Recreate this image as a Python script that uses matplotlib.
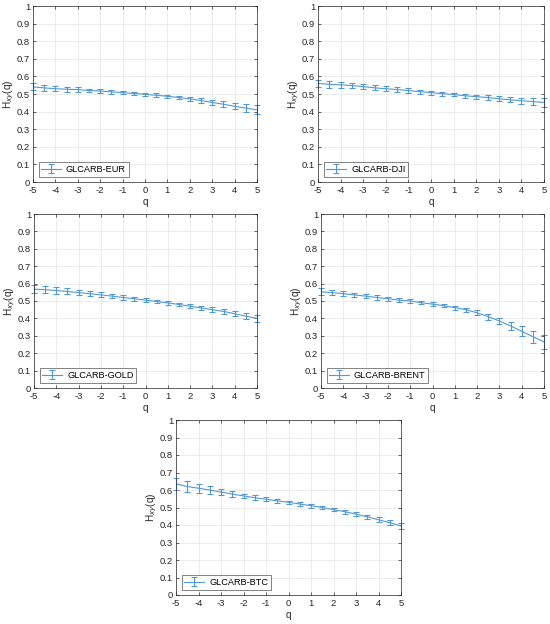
import numpy as np
import matplotlib.pyplot as plt

plt.rcParams['font.family'] = ['Liberation Sans', 'DejaVu Sans']
plt.rcParams['axes.unicode_minus'] = False

q = np.arange(-5, 5.01, 0.5)

# GLCARB-EUR
h_eur = [0.540, 0.535, 0.530, 0.527, 0.525, 0.520, 0.517, 0.512, 0.508, 0.503, 0.498,
         0.493, 0.487, 0.480, 0.472, 0.463, 0.452, 0.442, 0.430, 0.420, 0.410]
e_eur = [0.020, 0.016, 0.014, 0.013, 0.012, 0.011, 0.011, 0.010, 0.010, 0.010, 0.010,
         0.010, 0.010, 0.011, 0.012, 0.013, 0.014, 0.016, 0.018, 0.021, 0.025]
# GLCARB-DJI
h_dji = [0.560, 0.555, 0.552, 0.548, 0.542, 0.535, 0.530, 0.525, 0.520, 0.513, 0.508,
         0.502, 0.497, 0.490, 0.485, 0.480, 0.473, 0.467, 0.462, 0.457, 0.452]
e_dji = [0.022, 0.019, 0.017, 0.016, 0.015, 0.014, 0.013, 0.012, 0.012, 0.011, 0.011,
         0.011, 0.011, 0.012, 0.012, 0.013, 0.014, 0.015, 0.017, 0.020, 0.025]
# GLCARB-GOLD
h_gold = [0.568, 0.565, 0.560, 0.555, 0.548, 0.542, 0.535, 0.528, 0.520, 0.513, 0.505,
          0.497, 0.489, 0.480, 0.470, 0.460, 0.450, 0.440, 0.427, 0.413, 0.400]
e_gold = [0.022, 0.019, 0.018, 0.017, 0.016, 0.015, 0.014, 0.013, 0.012, 0.012, 0.011,
          0.011, 0.011, 0.011, 0.012, 0.012, 0.013, 0.014, 0.016, 0.018, 0.022]
# GLCARB-BRENT
h_brent = [0.553, 0.548, 0.542, 0.535, 0.528, 0.520, 0.513, 0.505, 0.500, 0.490, 0.482,
           0.473, 0.462, 0.450, 0.432, 0.410, 0.385, 0.357, 0.326, 0.295, 0.265]
e_brent = [0.020, 0.016, 0.014, 0.013, 0.012, 0.012, 0.011, 0.011, 0.010, 0.010, 0.010,
           0.010, 0.011, 0.012, 0.015, 0.017, 0.020, 0.025, 0.030, 0.035, 0.040]
# GLCARB-BTC
h_btc = [0.635, 0.620, 0.610, 0.600, 0.588, 0.577, 0.566, 0.556, 0.547, 0.538, 0.530,
         0.520, 0.510, 0.500, 0.488, 0.476, 0.462, 0.447, 0.430, 0.413, 0.395]
e_btc = [0.035, 0.030, 0.025, 0.021, 0.018, 0.015, 0.014, 0.013, 0.012, 0.011, 0.010,
         0.010, 0.010, 0.010, 0.010, 0.011, 0.011, 0.012, 0.013, 0.014, 0.016]

series = [
    ("GLCARB-EUR", h_eur, e_eur),
    ("GLCARB-DJI", h_dji, e_dji),
    ("GLCARB-GOLD", h_gold, e_gold),
    ("GLCARB-BRENT", h_brent, e_brent),
    ("GLCARB-BTC", h_btc, e_btc),
]

W, H = 550, 624
# axes boxes in pixels: left, top, right, bottom
boxes = [
    (33, 6, 257, 182),
    (318, 6, 544, 182),
    (34, 214, 257, 388),
    (321, 214, 544, 388),
    (176, 420, 401, 595),
]

fig = plt.figure(figsize=(W / 100, H / 100), dpi=100)
col = '#5299d2'

for (name, h, e), (l, t, r, b) in zip(series, boxes):
    ax = fig.add_axes([l / W, 1 - b / H, (r - l) / W, (b - t) / H])
    _, caps, bars = ax.errorbar(q, h, yerr=e, color=col, lw=0.8, elinewidth=0.8,
                                capsize=2, capthick=0.8, label=name)
    for c in caps:
        c.set_clip_on(False)
    for bc in bars:
        bc.set_clip_on(False)
    ax.set_xlim(-5, 5)
    ax.set_ylim(0, 1)
    ax.set_xticks(np.arange(-5, 6, 1))
    ax.set_yticks(np.arange(0, 1.01, 0.1))
    ax.set_yticklabels(['0'] + ['%.1f' % v for v in np.arange(0.1, 0.95, 0.1)] + ['1'])
    ax.grid(True, color='#e4e4e4', lw=0.5)
    ax.set_axisbelow(True)
    ax.tick_params(direction='in', length=2, width=0.5, labelsize=6.8,
                   top=True, right=True, colors='#262626')
    ax.tick_params(axis='x', pad=3)
    ax.tick_params(axis='y', pad=2)
    for s in ax.spines.values():
        s.set_linewidth(0.5)
        s.set_color('#262626')
    ax.set_xlabel('q', fontsize=7.2, labelpad=1, color='#262626')
    ax.set_ylabel(r'H$_{xy}$(q)', fontsize=7.2, labelpad=0.5, color='#262626')
    leg = ax.legend(loc='lower left', fontsize=6.6, frameon=True, fancybox=False,
                    borderpad=0.3, handlelength=2.2, handletextpad=0.5,
                    borderaxespad=0.6)
    leg.get_frame().set_edgecolor('#262626')
    leg.get_frame().set_linewidth(0.5)

fig.savefig('out.png', dpi=100)
